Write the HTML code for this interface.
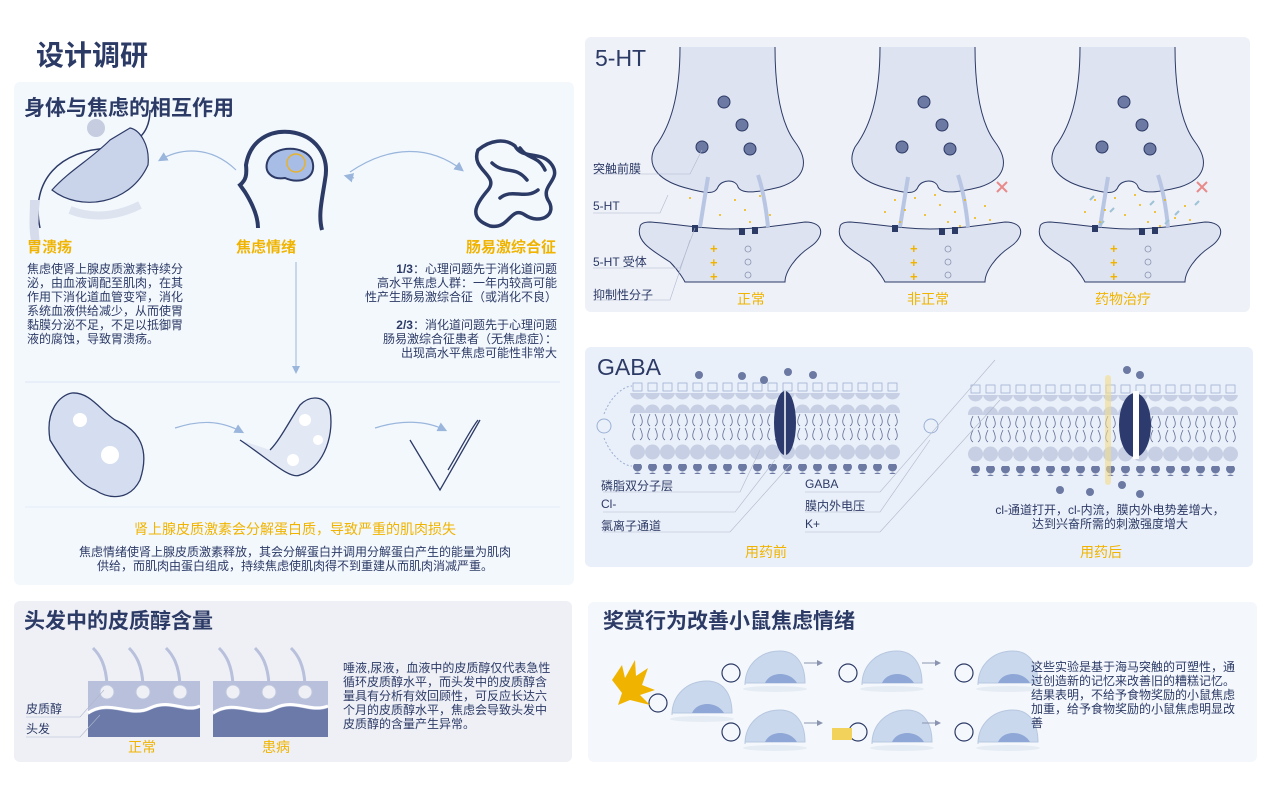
<!DOCTYPE html>
<html><head><meta charset="utf-8"><style>
*{margin:0;padding:0;box-sizing:border-box}
body{width:1268px;height:791px;background:#fff;position:relative;overflow:hidden;font-family:"Liberation Sans","Noto Sans CJK SC",sans-serif;color:#2c3a66}
.a{position:absolute;white-space:nowrap}
.h{font-weight:bold;font-size:21px;color:#2c3a66}
.y{color:#f0b400}
.p{font-size:12px;line-height:14px;color:#2c3a66}
.l{font-size:12px;color:#2c3a66}
svg{position:absolute;left:0;top:0}
</style></head><body>
<svg width="1268" height="791" viewBox="0 0 1268 791">
<defs>
<marker id="ar" markerWidth="8" markerHeight="8" refX="6" refY="4" orient="auto"><path d="M0,0 L8,4 L0,8z" fill="#9ab6dc"/></marker>
<marker id="ag" markerWidth="6" markerHeight="6" refX="5" refY="3" orient="auto"><path d="M0,0 L6,3 L0,6z" fill="#8a93b0"/></marker>
<pattern id="lip" width="15" height="20" patternUnits="userSpaceOnUse"><circle cx="7.5" cy="10" r="7.5" fill="#c6cfe3"/></pattern>
<pattern id="ion" width="15" height="10" patternUnits="userSpaceOnUse"><circle cx="7.5" cy="5" r="4.5" fill="#6b79a3"/></pattern>
<pattern id="kk" width="15" height="10" patternUnits="userSpaceOnUse"><rect x="3" y="1" width="9" height="8" fill="none" stroke="#9fb0d4" stroke-width="0.8"/></pattern>
<pattern id="tail" width="15" height="30" patternUnits="userSpaceOnUse"><path d="M5,2 C2,8 2,12 5,14 M10,2 C13,8 13,12 10,14 M5,16 C2,22 2,26 5,28 M10,16 C13,22 13,26 10,28" stroke="#5d6a94" stroke-width="0.8" fill="none"/></pattern>
<g id="syn">
<path d="M-50,-140 C-50,-90 -60,-60 -75,-40 C-85,-20 -70,-5 -40,2 C-25,6 -15,8 -12,0 C-8,-8 6,-8 8,0 C12,8 30,5 50,0 C75,-8 80,-25 65,-45 C50,-65 45,-100 45,-140" fill="#dde3f1" stroke="#2c3a66" stroke-width="1"/>
<path d="M-90,40 C-95,55 -75,65 -60,75 C-50,85 -45,95 -45,95 L55,95 C55,85 65,70 80,60 C95,50 95,35 75,35 C40,40 20,42 0,42 C-30,42 -60,36 -80,35 C-88,35 -90,38 -90,40z" fill="#dde3f1" stroke="#2c3a66" stroke-width="1"/>
<g fill="#6b79a3" stroke="#2c3a66"><circle cx="-6" cy="-85" r="6"/><circle cx="12" cy="-62" r="6"/><circle cx="-28" cy="-40" r="6"/><circle cx="20" cy="-38" r="6"/></g>
<path d="M-22,-10 L-30,40" stroke="#b9c6e3" stroke-width="4" fill="none"/>
<path d="M38,40 C36,20 32,0 28,-12" stroke="#b9c6e3" stroke-width="4" fill="none"/>
<g fill="#2c3a66"><rect x="-38" y="38" width="6" height="7"/><rect x="9" y="41" width="6" height="7"/><rect x="22" y="40" width="6" height="7"/></g>
<g fill="#f0b400" font-size="13" font-weight="bold"><text x="-20" y="66">+</text><text x="-20" y="80">+</text><text x="-20" y="94">+</text></g>
<g fill="none" stroke="#8a93b0" stroke-width="0.8"><circle cx="18" cy="62" r="3"/><circle cx="18" cy="75" r="3"/><circle cx="18" cy="88" r="3"/></g>
</g>
<g id="mem">
<rect x="0" y="0" width="270" height="10" fill="url(#kk)"/>
<rect x="0" y="11" width="270" height="20" fill="url(#lip)"/>
<rect x="0" y="31" width="270" height="30" fill="url(#tail)"/>
<rect x="0" y="61" width="270" height="20" fill="url(#lip)"/>
<rect x="0" y="82" width="270" height="10" fill="url(#ion)"/>
</g>
<g id="mouse">
<ellipse cx="40" cy="24" rx="32" ry="3" fill="#e6ecf4"/>
<path d="M10,20 C10,0 25,-14 45,-14 C62,-14 70,0 70,18 L10,18z" fill="#c9d8ec" stroke="#b7c7e0"/>
<path d="M30,18 C35,6 55,6 62,18z" fill="#8ea7d6"/>
<circle cx="-4" cy="8" r="9" fill="none" stroke="#2c3a66" stroke-width="1.2"/>
</g>
</defs>
<!-- panels -->
<rect x="14" y="82" width="560" height="503" rx="6" fill="#f3f8fd"/>
<rect x="585" y="37" width="665" height="275" rx="6" fill="#eef1f8"/>
<rect x="585" y="347" width="668" height="220" rx="6" fill="#eaf0f9"/>
<rect x="14" y="601" width="558" height="161" rx="6" fill="#eef0f6"/>
<rect x="588" y="602" width="669" height="160" rx="6" fill="#f4f8fc"/>

<!-- stomach -->
<path d="M40,228 C30,180 60,150 110,148 C140,146 150,130 150,110" stroke="#2c3a66" stroke-width="1.5" fill="none"/>
<path d="M52,190 C80,212 130,205 148,165 C150,145 140,130 130,128 L110,140 C90,160 70,170 52,190z" fill="#c9d3ea" stroke="#2c3a66" stroke-width="1.2"/>
<circle cx="96" cy="128" r="9" fill="#c6cde0"/>
<path d="M30,200 C30,215 28,230 32,245 L40,245 C38,228 38,215 40,200z" fill="#d6dceb"/>
<path d="M70,210 C95,220 120,215 140,205" stroke="#dde3ef" stroke-width="8" fill="none"/>
<!-- head -->
<path d="M258,228 C258,215 250,200 245,192 L240,185 C246,180 247,175 246,165 C250,140 270,130 290,132 C315,135 330,155 325,180 C322,200 318,215 322,230" stroke="#2c3a66" stroke-width="4" fill="none"/>
<path d="M268,160 C275,145 305,145 312,160 C318,178 300,185 285,178 C272,180 263,172 268,160z" fill="#a8bde6" stroke="#2c3a66" stroke-width="2"/>
<circle cx="296" cy="163" r="9" fill="none" stroke="#e7b22a" stroke-width="1.5"/>
<!-- intestine -->
<g stroke="#2c3a66" stroke-width="3.5" fill="none" stroke-linecap="round">
<path d="M478,150 C470,170 500,175 488,190 C475,205 468,218 490,226 C510,230 510,205 525,215 C540,225 558,215 548,200 C540,185 562,180 552,165 C542,150 522,160 515,146 C505,138 490,140 478,150z"/>
<path d="M492,163 C505,175 515,165 527,180 M500,198 C512,188 525,200 538,190 M520,148 C528,160 538,155 545,170"/>
</g>
<path d="M236,170 C210,145 180,148 160,160" stroke="#9ab6dc" stroke-width="1.2" fill="none" marker-end="url(#ar)"/>
<path d="M350,172 C390,145 430,145 462,170" stroke="#9ab6dc" stroke-width="1.2" fill="none" marker-end="url(#ar)"/>
<path d="M354,178 L346,176" stroke="#9ab6dc" stroke-width="1.2" marker-end="url(#ar)"/>
<line x1="296" y1="262" x2="296" y2="372" stroke="#9ab6dc" stroke-width="1" marker-end="url(#ar)"/>
<line x1="25" y1="382" x2="560" y2="382" stroke="#dde6f3" stroke-width="1"/>
<line x1="25" y1="507" x2="560" y2="507" stroke="#e6edf6" stroke-width="1"/>
<!-- muscles -->
<g stroke="#2c3a66" stroke-width="1.3" fill="#d4def0">
<path d="M50,440 C45,410 60,395 72,393 C90,392 100,410 115,420 C140,430 150,450 140,480 C130,500 110,500 95,490 C80,485 65,465 50,440z"/>
<path d="M240,440 C270,460 290,480 300,475 C320,470 335,440 330,410 C325,395 310,395 300,405 C290,420 280,440 270,450" fill="#e2e9f5"/>
<path d="M410,440 L440,490 L480,420" fill="none"/>
<path d="M448,470 C460,450 470,430 478,420" fill="none"/>
</g>
<g fill="#fff"><circle cx="305" cy="420" r="6"/><circle cx="318" cy="440" r="5"/><circle cx="293" cy="460" r="6"/><circle cx="80" cy="420" r="7"/><circle cx="110" cy="455" r="9"/></g>
<path d="M175,428 C200,420 220,420 242,432" stroke="#9ab6dc" stroke-width="1.2" fill="none" marker-end="url(#ar)"/>
<path d="M375,428 C400,420 425,420 445,430" stroke="#9ab6dc" stroke-width="1.2" fill="none" marker-end="url(#ar)"/>

<!-- 5-HT synapses -->
<use href="#syn" transform="translate(730,187)"/>
<use href="#syn" transform="translate(930,187)"/>
<use href="#syn" transform="translate(1130,187)"/>
<g fill="#f0b400">
<circle cx="735" cy="200" r="1"/><circle cx="745" cy="210" r="1"/><circle cx="760" cy="196" r="1"/><circle cx="720" cy="215" r="1"/><circle cx="770" cy="215" r="1"/><circle cx="750" cy="222" r="1"/><circle cx="690" cy="198" r="1"/>
</g>
<g fill="#f0b400" id="dots">
<circle cx="895" cy="200" r="1"/><circle cx="905" cy="210" r="1"/><circle cx="915" cy="198" r="1"/><circle cx="925" cy="215" r="1"/><circle cx="940" cy="205" r="1"/><circle cx="955" cy="212" r="1"/><circle cx="965" cy="200" r="1"/><circle cx="975" cy="218" r="1"/><circle cx="985" cy="206" r="1"/><circle cx="900" cy="222" r="1"/><circle cx="948" cy="222" r="1"/><circle cx="990" cy="220" r="1"/><circle cx="885" cy="212" r="1"/><circle cx="935" cy="195" r="1"/><circle cx="960" cy="226" r="1"/>
</g>
<use href="#dots" transform="translate(200,0)"/>
<g stroke="#9fc3d6" stroke-width="2"><line x1="1090" y1="200" x2="1094" y2="196"/><line x1="1110" y1="212" x2="1114" y2="208"/><line x1="1150" y1="205" x2="1154" y2="201"/><line x1="1175" y1="215" x2="1179" y2="211"/><line x1="1195" y1="205" x2="1199" y2="201"/><line x1="1100" y1="225" x2="1104" y2="221"/><line x1="1165" y1="224" x2="1169" y2="220"/></g>
<g stroke="#e88a8a" stroke-width="2"><path d="M997,182 L1007,192 M1007,182 L997,192"/><path d="M1197,182 L1207,192 M1207,182 L1197,192"/></g>
<g stroke="#b0b8cc" stroke-width="0.6" fill="none">
<path d="M593,174 L690,174 L702,150"/><path d="M593,213 L660,213 L668,195"/><path d="M593,268 L680,268 L695,228"/><path d="M593,300 L670,300 L690,240"/>
</g>

<!-- GABA membranes -->
<use href="#mem" transform="translate(630,382)"/>
<use href="#mem" transform="translate(968,384)"/>
<ellipse cx="785" cy="423" rx="11" ry="32" fill="#2c3a6e"/><line x1="785" y1="391" x2="785" y2="455" stroke="#fff" stroke-width="1.5"/>
<ellipse cx="1135" cy="425" rx="16" ry="32" fill="#2c3a6e"/><rect x="1133" y="391" width="6" height="68" fill="#fff"/>
<rect x="1105" y="375" width="6" height="110" rx="3" fill="#f3dc8a" opacity="0.6"/>
<circle cx="604" cy="426" r="7" fill="none" stroke="#9ab0d6"/><circle cx="931" cy="426" r="7" fill="none" stroke="#9ab0d6"/>
<path d="M604,414 C612,394 625,386 632,386 M604,438 C612,458 625,466 632,466" stroke="#9ab0d6" stroke-dasharray="2 2" fill="none"/>
<g fill="#6b79a3"><circle cx="742" cy="376" r="4"/><circle cx="764" cy="380" r="4"/><circle cx="788" cy="372" r="4"/><circle cx="699" cy="375" r="4"/><circle cx="813" cy="375" r="4"/><circle cx="1140" cy="375" r="4"/><circle cx="1127" cy="370" r="4"/><circle cx="1122" cy="485" r="4"/><circle cx="1140" cy="494" r="4"/><circle cx="1060" cy="490" r="4"/><circle cx="1090" cy="492" r="4"/></g>
<g stroke="#b0b8cc" stroke-width="0.6" fill="none">
<path d="M603,492 L740,492 L760,450"/><path d="M603,512 L735,512 L775,460"/><path d="M603,532 L730,532 L790,465"/>
<path d="M805,492 L880,492 L995,360"/><path d="M805,512 L880,512 L930,440"/><path d="M805,532 L880,532 L1000,400"/>
</g>

<!-- hair -->
<rect x="88" y="681" width="112" height="56" fill="#b8c0dc"/>
<rect x="213" y="681" width="115" height="56" fill="#b8c0dc"/>
<path d="M88,715 C110,700 130,720 150,710 C170,700 185,715 200,708 L200,737 L88,737z" fill="#6b7aa8"/>
<path d="M213,715 C235,700 255,720 275,710 C295,700 310,715 328,708 L328,737 L213,737z" fill="#6b7aa8"/>
<g stroke="#fff" stroke-width="3" fill="none"><path d="M88,713 C110,698 130,718 150,708 C170,698 185,713 200,706"/><path d="M213,713 C235,698 255,718 275,708 C295,698 310,713 328,706"/></g>
<g fill="#eef0f6" stroke="#c0c8de"><circle cx="107" cy="692" r="7"/><circle cx="143" cy="692" r="7"/><circle cx="180" cy="692" r="7"/><circle cx="233" cy="692" r="7"/><circle cx="269" cy="692" r="7"/><circle cx="305" cy="692" r="7"/></g>
<g stroke="#b8c0dc" stroke-width="3" fill="none"><path d="M107,685 C106,665 100,655 93,648"/><path d="M143,685 C142,665 136,655 129,648"/><path d="M180,685 C179,665 173,655 166,648"/><path d="M233,685 C232,665 226,655 219,648"/><path d="M269,685 C268,665 262,655 255,648"/><path d="M305,685 C304,665 298,655 291,648"/></g>
<g stroke="#b0b8cc" stroke-width="0.6" fill="none"><path d="M26,717 L80,717 L104,690"/><path d="M26,737 L80,737 L100,715"/></g>

<!-- mice -->
<use href="#mouse" transform="translate(735,665)"/>
<use href="#mouse" transform="translate(852,665)"/>
<use href="#mouse" transform="translate(968,665)"/>
<use href="#mouse" transform="translate(735,724)"/>
<use href="#mouse" transform="translate(862,724)"/>
<use href="#mouse" transform="translate(968,724)"/>
<use href="#mouse" transform="translate(662,695)"/>
<path d="M612,680 L622,665 L625,678 L635,660 L636,676 L648,668 L642,685 L655,690 L640,695 L650,705 L630,700 L618,705 L622,693z" fill="#f0b400"/>
<g stroke="#8a93b0" stroke-width="1"><line x1="804" y1="663" x2="822" y2="663" marker-end="url(#ag)"/><line x1="922" y1="663" x2="940" y2="663" marker-end="url(#ag)"/><line x1="804" y1="723" x2="822" y2="723" marker-end="url(#ag)"/><line x1="922" y1="723" x2="940" y2="723" marker-end="url(#ag)"/></g>
<rect x="832" y="728" width="20" height="12" fill="#f3d25c"/>
</svg>

<div class="a" style="left:36px;top:34px;font-size:28px;font-weight:bold">设计调研</div>
<div class="a h" style="left:24px;top:92px">身体与焦虑的相互作用</div>
<div class="a y" style="left:27px;top:236px;font-size:15px;font-weight:bold">胃溃疡</div>
<div class="a y" style="left:236px;top:236px;font-size:15px;font-weight:bold">焦虑情绪</div>
<div class="a y" style="left:466px;top:236px;font-size:15px;font-weight:bold">肠易激综合征</div>
<div class="a p" style="left:27px;top:262px">焦虑使肾上腺皮质激素持续分<br>泌，由血液调配至肌肉，在其<br>作用下消化道血管变窄，消化<br>系统血液供给减少，从而使胃<br>黏膜分泌不足，不足以抵御胃<br>液的腐蚀，导致胃溃疡。</div>
<div class="a p" style="right:711px;top:262px;text-align:right"><b>1/3</b>：心理问题先于消化道问题<br>高水平焦虑人群：一年内较高可能<br>性产生肠易激综合征（或消化不良）<br><br><b>2/3</b>：消化道问题先于心理问题<br>肠易激综合征患者（无焦虑症）：<br>出现高水平焦虑可能性非常大</div>
<div class="a y" style="left:0;width:590px;text-align:center;top:519px;font-size:14px">肾上腺皮质激素会分解蛋白质，导致严重的肌肉损失</div>
<div class="a p" style="left:0;width:590px;text-align:center;top:545px;white-space:normal">焦虑情绪使肾上腺皮质激素释放，其会分解蛋白并调用分解蛋白产生的能量为肌肉<br>供给，而肌肉由蛋白组成，持续焦虑使肌肉得不到重建从而肌肉消减严重。</div>

<div class="a h" style="left:24px;top:605px">头发中的皮质醇含量</div>
<div class="a l" style="left:26px;top:700px">皮质醇</div>
<div class="a l" style="left:26px;top:720px">头发</div>
<div class="a y" style="left:128px;top:737px;font-size:14px">正常</div>
<div class="a y" style="left:262px;top:737px;font-size:14px">患病</div>
<div class="a p" style="left:343px;top:661px">唾液,尿液，血液中的皮质醇仅代表急性<br>循环皮质醇水平，而头发中的皮质醇含<br>量具有分析有效回顾性，可反应长达六<br>个月的皮质醇水平，焦虑会导致头发中<br>皮质醇的含量产生异常。</div>

<div class="a" style="left:595px;top:45px;font-size:23px">5-HT</div>
<div class="a l" style="left:593px;top:160px">突触前膜</div>
<div class="a l" style="left:593px;top:199px">5-HT</div>
<div class="a l" style="left:593px;top:253px">5-HT 受体</div>
<div class="a l" style="left:593px;top:286px">抑制性分子</div>
<div class="a y" style="left:737px;top:289px;font-size:14px">正常</div>
<div class="a y" style="left:907px;top:289px;font-size:14px">非正常</div>
<div class="a y" style="left:1095px;top:289px;font-size:14px">药物治疗</div>

<div class="a" style="left:597px;top:354px;font-size:23px">GABA</div>
<div class="a l" style="left:601px;top:477px">磷脂双分子层</div>
<div class="a l" style="left:601px;top:497px">Cl-</div>
<div class="a l" style="left:601px;top:517px">氯离子通道</div>
<div class="a l" style="left:805px;top:477px">GABA</div>
<div class="a l" style="left:805px;top:497px">膜内外电压</div>
<div class="a l" style="left:805px;top:517px">K+</div>
<div class="a y" style="left:745px;top:542px;font-size:14px">用药前</div>
<div class="a y" style="left:1080px;top:542px;font-size:14px">用药后</div>
<div class="a p" style="left:960px;width:300px;text-align:center;top:503px">cl-通道打开，cl-内流，膜内外电势差增大，<br>达到兴奋所需的刺激强度增大</div>

<div class="a h" style="left:603px;top:605px">奖赏行为改善小鼠焦虑情绪</div>
<div class="a p" style="left:1031px;top:660px">这些实验是基于海马突触的可塑性，通<br>过创造新的记忆来改善旧的糟糕记忆。<br>结果表明，不给予食物奖励的小鼠焦虑<br>加重，给予食物奖励的小鼠焦虑明显改<br>善</div>
</body></html>
